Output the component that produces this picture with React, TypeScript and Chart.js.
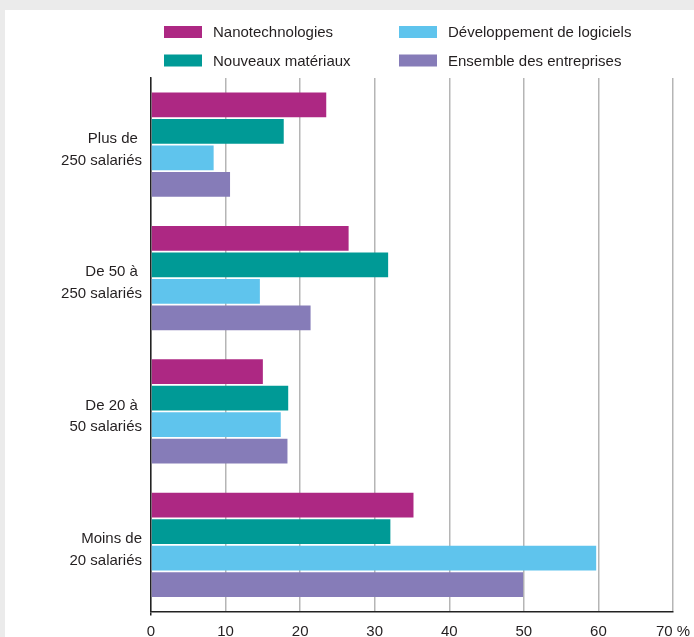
import React, { useEffect, useRef } from "react";
import { Chart, registerables } from "chart.js";

Chart.register(...registerables);

const categories: string[][] = [
  ["Plus de ", "250 salariés"],
  ["De 50 à ", "250 salariés"],
  ["De 20 à ", "50 salariés"],
  ["Moins de", "20 salariés"],
];

const seriesNames = [
  "Nanotechnologies",
  "Nouveaux matériaux",
  "Développement de logiciels",
  "Ensemble des entreprises",
];

const nanotech = [23.5, 26.5, 15.0, 35.2];
const nouveauxMateriaux = [17.8, 31.8, 18.4, 32.1];
const logiciels = [8.4, 14.6, 17.4, 59.7];
const ensemble = [10.6, 21.4, 18.3, 49.9];

const colors = ["#ad2883", "#009a96", "#5fc4ed", "#867cb8"];

const xTicks = [0, 10, 20, 30, 40, 50, 60, 70];

const FONT = "'Liberation Sans', Arial, Helvetica, sans-serif";
const TEXT = "#231f20";

const legendPlugin = {
  id: "twoColLegend",
  afterDraw(chart: any) {
    const ctx = chart.ctx;
    const area = chart.chartArea;
    ctx.save();
    ctx.font = `15px ${FONT}`;
    ctx.textBaseline = "middle";
    ctx.textAlign = "left";
    chart.data.datasets.forEach((ds: any, i: number) => {
      const col = Math.floor(i / 2);
      const row = i % 2;
      const bx = area.left + 13 + col * 235;
      const cy = 32 + row * 28.5;
      ctx.fillStyle = ds.backgroundColor;
      ctx.fillRect(bx, cy - 6, 38, 12);
      ctx.fillStyle = TEXT;
      ctx.fillText(ds.label, bx + 49, cy + 1);
    });
    ctx.restore();
  },
};

export default function App() {
  const ref = useRef<HTMLCanvasElement | null>(null);

  useEffect(() => {
    if (!ref.current) return;
    const values = [nanotech, nouveauxMateriaux, logiciels, ensemble];
    const chart = new Chart(ref.current, {
      type: "bar",
      data: {
        labels: categories,
        datasets: seriesNames.map((name, i) => ({
          label: name,
          data: values[i],
          backgroundColor: colors[i],
          borderWidth: 0,
          categoryPercentage: 0.795,
          barPercentage: 0.93,
        })),
      },
      options: {
        indexAxis: "y",
        animation: false,
        responsive: false,
        maintainAspectRatio: false,
        layout: { padding: { top: 78, right: 21, left: 0, bottom: 0 } },
        plugins: {
          legend: { display: false },
          tooltip: { enabled: false },
        },
        scales: {
          x: {
            min: 0,
            max: 70,
            afterBuildTicks: (scale: any) => {
              scale.ticks = xTicks.map((v) => ({ value: v }));
            },
            afterFit: (scale: any) => {
              scale.height = 25.5;
              scale.paddingLeft = 0;
              scale.paddingRight = 0;
            },
            grid: {
              color: "#b5b5b5",
              lineWidth: 1.5,
              drawTicks: true,
              tickLength: 4,
              tickColor: (ctx: any) => (ctx.index === 0 ? "#222" : "rgba(0,0,0,0)"),
            },
            border: { display: true, color: "#222", width: 1.5 },
            ticks: {
              font: { family: FONT, size: 15 },
              color: TEXT,
              padding: 7,
              maxRotation: 0,
              autoSkip: false,
              callback: (v: any) => (Number(v) === 70 ? "70 %" : String(v)),
            },
          },
          y: {
            afterFit: (scale: any) => {
              scale.width = 151;
              scale.paddingTop = 0;
              scale.paddingBottom = 0;
            },
            grid: { display: false, drawTicks: false },
            border: { display: true, color: "#222", width: 1.5 },
            ticks: {
              font: { family: FONT, size: 15, lineHeight: 1.45 },
              color: TEXT,
              padding: 9,
              labelOffset: 5,
            },
          },
        },
      },
      plugins: [legendPlugin],
    });
    return () => chart.destroy();
  }, []);

  return (
    <div
      style={{
        position: "fixed",
        left: 0,
        top: 0,
        width: 694,
        height: 637,
        background: "#ebebeb",
        overflow: "hidden",
      }}
    >
      <div
        style={{
          position: "absolute",
          left: 5,
          top: 10,
          right: 0,
          bottom: 0,
          background: "#ffffff",
        }}
      />
      <canvas
        ref={ref}
        width={694}
        height={637}
        style={{ position: "absolute", left: 0, top: 0, width: 694, height: 637 }}
      />
    </div>
  );
}
